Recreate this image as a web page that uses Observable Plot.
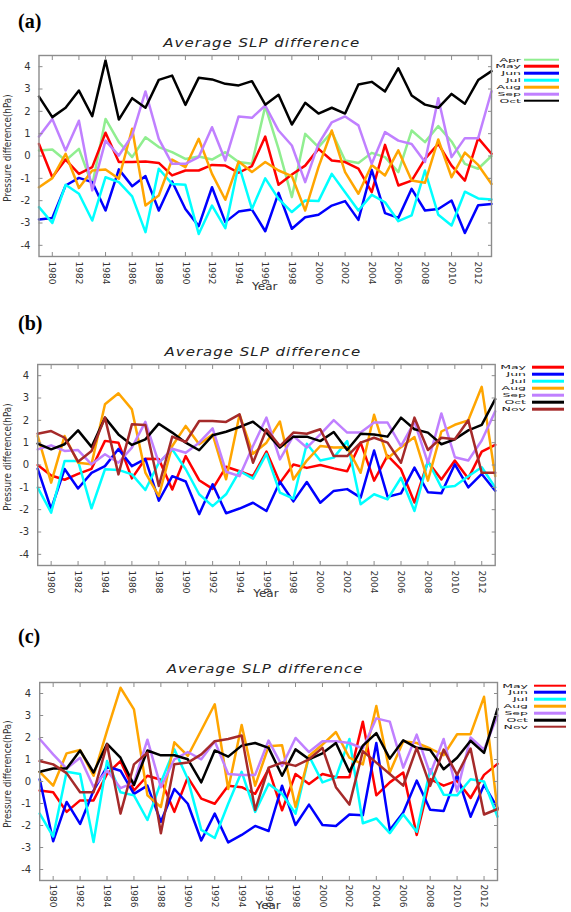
<!DOCTYPE html>
<html>
<head>
<meta charset="utf-8">
<script src="https://cdn.jsdelivr.net/npm/d3@7"></script>
<script src="https://cdn.jsdelivr.net/npm/@observablehq/plot@0.6"></script>
<style>
html, body { margin: 0; padding: 0; background: #fff; overflow: hidden; }
#root { position: relative; width: 571px; height: 912px; }
.abs { position: absolute; white-space: nowrap; z-index: 2; }
.plabel { font-family: "Liberation Serif", "Times New Roman", serif; font-weight: bold; font-size: 20px; line-height: 20px; color: #000; transform: translateY(-50%); }
.title { font-family: "DejaVu Sans", sans-serif; font-style: italic; font-size: 15px; line-height: 15px; letter-spacing: 1px; color: #222; transform: translate(-50%, -50%) scaleY(0.8); }
.ylab { font-family: "DejaVu Sans", sans-serif; font-size: 11px; line-height: 11px; color: #333; transform: translate(-50%, -50%) rotate(-90deg) scaleX(0.8); }
.xlab { font-family: "DejaVu Sans", sans-serif; font-size: 12px; line-height: 12px; color: #333; transform: translate(-50%, -50%) scaleY(0.8); }
.legtext { font-family: "DejaVu Sans", sans-serif; font-size: 12.5px; line-height: 8px; color: #222; transform: translateY(-50%) scaleY(0.47); transform-origin: 50% 50%; text-align: right; }
.legline { height: 2.6px; transform: translateY(-50%); }
.svgwrap { position: absolute; left: 0; z-index: 1; }
</style>
</head>
<body>
<div id="root"></div>
<script>
// ---------- data ----------
const YEARS = [1979, 1980, 1981, 1982, 1983, 1984, 1985, 1986, 1987, 1988, 1989, 1990, 1991, 1992, 1993, 1994, 1995,
  1996, 1997, 1998, 1999, 2000, 2001, 2002, 2003, 2004, 2005, 2006, 2007, 2008, 2009, 2010, 2011, 2012, 2013];
const X_TICKS = [1980, 1982, 1984, 1986, 1988, 1990, 1992, 1994, 1996, 1998, 2000, 2002, 2004, 2006, 2008, 2010, 2012];
const Y_TICKS = [-4, -3, -2, -1, 0, 1, 2, 3, 4];

// Panel (a)
const A_APR = [0.25, 0.29, -0.2, 0.32, -1.3, 1.66, 0.62, -0.05, 0.84, 0.4, 0.17, -0.13, -0.02, -0.16, 0.17, -0.27,
  -0.35, 2.23, 0.32, -1.84, 0.99, 0.4, 1.07, -0.2, -0.31, 0.14, -0.05, -0.72, 1.14, 0.62, 1.34, 0.65, -0.35, -0.57, 0.0];
const A_MAY = [0.54, -0.95, -0.16, -0.8, -0.5, 1.04, -0.27, -0.27, -0.25, -0.31, -0.87, -0.65, -0.65, -0.4, -0.43, -0.75,
  -0.45, 0.87, -1.29, -0.83, -0.43, 0.32, -0.2, -0.27, -0.57, -1.62, 0.5, -1.32, -1.1, -0.13, 0.54, -0.43, -1.1, 0.8, 0.1];
const A_JUN = [-2.84, -2.78, -1.32, -0.98, -1.17, -2.44, -0.6, -1.35, -0.9, -2.44, -1.14, -2.37, -3.14, -1.4, -2.96, -2.49,
  -2.4, -3.37, -1.65, -3.26, -2.74, -2.63, -2.22, -2.02, -2.86, -0.62, -2.56, -2.77, -1.47, -2.44, -2.37, -1.99, -3.45, -2.2, -2.15];
const A_JUL = [-2.29, -3.0, -1.29, -1.69, -2.89, -0.95, -1.17, -1.81, -3.41, -0.57, -1.25, -1.29, -3.49, -2.22, -3.23, -0.38,
  -2.37, -1.0, -1.92, -2.51, -1.99, -2.02, -0.8, -1.62, -2.44, -1.74, -2.07, -2.92, -2.66, -0.65, -2.63, -3.11, -1.6, -1.9, -1.95];
const A_AUG = [-1.4, -0.99, 0.1, -1.43, -0.65, -0.6, -1.02, 1.22, -2.22, -1.77, -0.16, -0.5, 0.77, -0.8, -1.96, -0.25,
  -0.72, -0.27, -0.65, -0.9, -2.44, -0.5, 1.14, -0.72, -1.69, -0.4, -0.87, 0.25, -1.1, -1.2, 0.74, -0.95, 0.15, -0.4, -1.25];
const A_SEP = [0.87, 1.66, 0.25, 1.58, -1.54, 0.69, 0.02, 0.92, 2.89, 0.77, -0.35, -0.35, -0.05, 1.29, -0.2, 1.77,
  1.71, 2.26, 1.14, 0.47, -1.17, 0.54, 1.51, 1.77, 1.37, -0.35, 1.07, 0.69, 0.54, -0.27, 2.59, -0.05, 0.8, 0.8, 2.9];
const A_OCT = [2.66, 1.74, 2.16, 2.93, 1.78, 4.28, 1.63, 2.59, 2.16, 3.41, 3.6, 2.29, 3.5, 3.43, 3.23, 3.16,
  3.35, 2.3, 2.74, 1.41, 2.38, 1.9, 2.16, 1.9, 3.2, 3.32, 2.89, 3.93, 2.71, 2.3, 2.16, 2.78, 2.34, 3.4, 3.8];

// Panel (b)
const B_MAY = [0.0, -0.47, -0.66, -0.4, -0.17, 1.08, 1.0, -0.6, 0.28, 0.27, -1.1, 0.4, -0.68, -1.07, -0.08, -0.28,
  -0.5, 0.6, -0.8, 0.02, -0.13, 0.0, -0.15, -0.28, 1.0, -0.7, 0.42, -0.2, -1.68, 0.15, -0.65, 0.2, -0.6, 0.6, 0.9];
const B_JUN = [-0.17, -1.97, -0.18, -1.05, -0.35, -0.05, 0.72, -0.05, 0.27, -1.6, -0.5, -0.74, -2.2, -0.86, -2.16, -1.95,
  -1.69, -2.06, -0.75, -1.63, -0.76, -1.69, -1.16, -1.08, -1.46, 0.65, -1.42, -1.27, -0.12, -1.22, -1.27, 0.03, -1.0, -0.4, -1.15];
const B_JUL = [-1.01, -2.13, 0.18, 0.18, -1.94, -0.19, -0.22, -0.42, -1.12, 0.1, 0.7, -0.19, -1.31, -1.84, -1.31, -0.27,
  -0.61, 0.5, -1.24, -1.51, 0.95, 0.2, 0.33, 1.07, -1.76, -1.31, -1.54, -0.57, -2.06, 0.18, -1.01, -0.94, -0.5, -0.1, -1.0];
const B_AUG = [1.3, -0.79, 1.3, 0.1, 0.03, 2.72, 3.21, 2.49, -0.34, -1.39, 0.85, 1.75, 0.93, 1.37, -0.64, 2.25,
  0.5, 1.0, 1.95, -0.65, 0.2, 0.85, 0.78, 0.8, -0.35, 2.25, 0.3, 0.8, 1.25, -0.7, 1.5, 1.8, 2.0, 3.5, -0.5];
const B_SEP = [0.7, 0.88, 0.63, 0.67, 0.03, 0.48, 0.1, 0.78, 1.93, 0.1, 0.73, 0.55, 1.0, 1.64, -0.3, -0.5,
  0.85, 2.12, 0.25, 1.3, 0.78, 1.37, 2.01, 1.45, 1.45, 1.9, 1.9, 0.85, 1.93, 0.1, 2.31, 0.35, 0.2, 1.1, 2.4];
const B_OCT = [0.96, 0.7, 0.93, 1.55, 0.81, 2.12, 1.37, 0.9, 1.15, 1.85, 1.45, 1.0, 0.66, 1.33, 1.49, 1.7,
  1.94, 1.45, 0.78, 1.27, 1.27, 1.07, 1.48, 0.67, 1.4, 1.37, 1.27, 2.12, 1.6, 1.45, 0.93, 1.15, 1.55, 1.8, 2.95];
const B_NOV = [1.4, 1.52, 1.22, 0.15, 0.63, 2.12, -0.42, 1.82, 1.79, -0.94, 1.27, 1.03, 1.97, 1.97, 1.93, 2.27,
  0.1, 1.6, 0.85, 1.45, 1.4, 1.6, 0.4, 0.4, 1.0, 1.22, 1.0, 0.1, 2.12, 0.67, 1.22, 1.15, 2.0, -0.35, -0.35];

// Panel (c)
const C_MAY = [-0.41, -0.49, -1.38, -0.86, -0.86, 0.34, 0.93, -0.41, 0.26, 0.08, -1.38, 0.19, -0.78, -1.01, -0.19, -0.26,
  -0.56, 0.56, -1.31, 0.34, -0.11, 0.34, 0.19, 0.19, 2.72, -0.63, -0.04, 0.41, -2.43, 0.11, -0.19, 0.04, -0.75, 0.3, 0.8];
const C_JUN = [0.1, -2.72, -0.93, -1.93, -0.41, 0.68, 0.49, -0.56, -0.19, -1.83, -0.34, -1.01, -2.68, -1.46, -2.77, -2.43,
  -2.02, -2.25, -0.19, -1.98, -1.05, -1.98, -2.02, -1.5, -1.53, 1.75, -2.2, -1.41, 0.04, -1.28, -1.34, 0.3, -1.6, -0.15, -1.2];
const C_JUL = [-1.46, -2.5, 0.44, 0.34, -2.75, 0.93, -0.49, -0.63, -1.75, -0.04, 1.46, 0.11, -2.2, -2.57, -1.01, 0.44,
  -1.38, -0.11, -0.56, -1.46, 1.16, -0.04, 0.19, 1.93, -1.9, -1.68, -2.35, -1.5, -2.28, 0.56, -0.6, -0.63, 0.1, 0.0, -1.6];
const C_AUG = [0.44, -0.19, 1.28, 1.43, 0.26, 2.3, 4.26, 3.28, -0.63, -1.16, 1.78, 1.16, 2.33, 3.51, -0.34, 2.57,
  -0.19, 1.6, 1.65, -1.16, 1.16, 1.68, 2.25, 1.08, 0.78, 3.43, 0.41, 1.83, 1.75, 1.5, 1.2, 2.15, 2.15, 3.85, -1.3];
const C_SEP = [1.93, 1.23, 0.59, 1.08, -0.25, 0.5, -0.3, -0.05, 1.9, -0.26, 1.01, 1.34, 1.01, 1.83, 0.34, 0.29,
  0.3, 1.86, 0.71, 1.98, 1.34, 1.83, 1.83, 1.75, 1.5, 2.87, 2.72, 0.63, 2.13, 0.34, 1.93, -0.45, 2.0, 1.45, 3.0];
const C_OCT = [0.44, 0.59, 0.59, 1.41, 0.41, 1.71, 1.08, -0.16, 1.41, 1.19, 1.19, 1.01, -0.04, 1.41, 1.13, 1.63,
  1.75, 1.53, 0.26, 1.46, 1.01, 1.28, 1.75, 0.44, 1.63, 2.2, 1.04, 1.87, 1.53, 1.43, 0.56, 1.08, 1.85, 1.3, 3.3];
const C_NOV = [0.93, 0.78, 0.38, -0.49, -0.49, 1.68, -1.46, 0.78, 1.31, -2.35, 0.78, 0.86, 1.23, 1.83, 1.93, 2.09,
  -1.3, 0.63, 0.86, 0.71, 1.01, 1.53, -0.26, -1.05, 1.38, 0.86, 0.34, -0.19, 1.53, -0.2, 1.45, 0.3, 1.5, -1.5, -1.25];

const TITLE = "Average SLP difference";
const X_LABEL = "Year";
const Y_LABEL = "Pressure difference(hPa)";

// ---------- styles & layout ----------
const COLORS = { Apr: "#90ee90", May: "#ff0000", Jun: "#0000ff", Jul: "#00ffff", Aug: "#ffa500", Sep: "#c080ff", Oct: "#000000", Nov: "#a52a2a" };

const PANELS = [
  { tag: "(a)", series: [["Apr", A_APR], ["May", A_MAY], ["Jun", A_JUN], ["Jul", A_JUL], ["Aug", A_AUG], ["Sep", A_SEP], ["Oct", A_OCT]],
    svgTop: 0, height: 300, frame: { left: 38.5, right: 491, top: 55, bottom: 256 }, xPad: 9,
    tagY: 20.5, titleY: 43, ylabY: 148, xlabY: 287,
    legend: { y0: 59.5, step: 6.9, textRight: 521, x1: 524, x2: 559 } },
  { tag: "(b)", series: [["May", B_MAY], ["Jun", B_JUN], ["Jul", B_JUL], ["Aug", B_AUG], ["Sep", B_SEP], ["Oct", B_OCT], ["Nov", B_NOV]],
    svgTop: 320, height: 290, frame: { left: 37.2, right: 494.7, top: 364, bottom: 565 }, xPad: 9,
    tagY: 322.5, titleY: 352, ylabY: 457, xlabY: 594,
    legend: { y0: 367, step: 7, textRight: 526, x1: 532, x2: 564 } },
  { tag: "(c)", series: [["May", C_MAY], ["Jun", C_JUN], ["Jul", C_JUL], ["Aug", C_AUG], ["Sep", C_SEP], ["Oct", C_OCT], ["Nov", C_NOV]],
    svgTop: 640, height: 272, frame: { left: 39.2, right: 497, top: 682, bottom: 880 }, xPad: 8,
    tagY: 635.5, titleY: 669, ylabY: 774, xlabY: 906,
    legend: { y0: 685.5, step: 6.9, textRight: 528, x1: 534, x2: 566 } }
];

const root = document.getElementById("root");
const GRAY = "#8c8c8c";

function addDiv(cls, text, style) {
  const d = document.createElement("div");
  d.className = "abs " + cls;
  if (text != null) d.textContent = text;
  Object.assign(d.style, style);
  root.appendChild(d);
  return d;
}

for (const p of PANELS) {
  const names = p.series.map(s => s[0]);
  const rows = [];
  for (const [name, vals] of p.series) vals.forEach((v, i) => rows.push({ year: YEARS[i], value: v, month: name }));

  const f = p.frame;
  const chart = Plot.plot({
    width: 571,
    height: p.height,
    marginLeft: f.left,
    marginRight: 571 - f.right,
    marginTop: f.top - p.svgTop,
    marginBottom: p.svgTop + p.height - f.bottom,
    style: { background: "transparent", fontFamily: "DejaVu Sans, sans-serif", fontSize: "10px", color: "#333", overflow: "visible" },
    x: { domain: [1979, 2013] },
    y: { domain: [-4.5, 4.5] },
    color: { domain: names, range: names.map(n => COLORS[n]) },
    marks: [
      Plot.line(rows, { x: "year", y: "value", z: "month", stroke: "month", strokeWidth: 2.5 }),
      Plot.frame({ stroke: GRAY, strokeWidth: 1.4 }),
      Plot.axisY({ anchor: "left", ticks: Y_TICKS, tickSize: -4, tickPadding: 12.5, stroke: GRAY, label: null, tickFormat: d => String(d) }),
      Plot.axisY({ anchor: "right", ticks: Y_TICKS, tickSize: -4, stroke: GRAY, fill: "none", label: null }),
      Plot.axisX({ anchor: "bottom", ticks: X_TICKS, tickSize: -4, tickPadding: p.xPad, tickRotate: 90, fontSize: 9, stroke: GRAY, label: null, tickFormat: d => String(d) }),
      Plot.axisX({ anchor: "top", ticks: X_TICKS, tickSize: -4, stroke: GRAY, fill: "none", label: null })
    ]
  });
  const wrap = document.createElement("div");
  wrap.className = "svgwrap";
  wrap.style.top = p.svgTop + "px";
  wrap.appendChild(chart);
  root.appendChild(wrap);

  const cx = (f.left + f.right) / 2;
  addDiv("plabel", p.tag, { left: "18px", top: p.tagY + "px" });
  addDiv("title", TITLE, { left: (cx - 3) + "px", top: p.titleY + "px" });
  addDiv("ylab", Y_LABEL, { left: "7px", top: p.ylabY + "px" });
  addDiv("xlab", X_LABEL, { left: cx + "px", top: p.xlabY + "px" });

  const L = p.legend;
  names.forEach((n, i) => {
    const y = L.y0 + i * L.step;
    addDiv("legtext", n, { right: (571 - L.textRight) + "px", top: y + "px" });
    addDiv("legline", null, { left: L.x1 + "px", width: (L.x2 - L.x1) + "px", top: y + "px", background: COLORS[n] });
  });
}
</script>
</body>
</html>
